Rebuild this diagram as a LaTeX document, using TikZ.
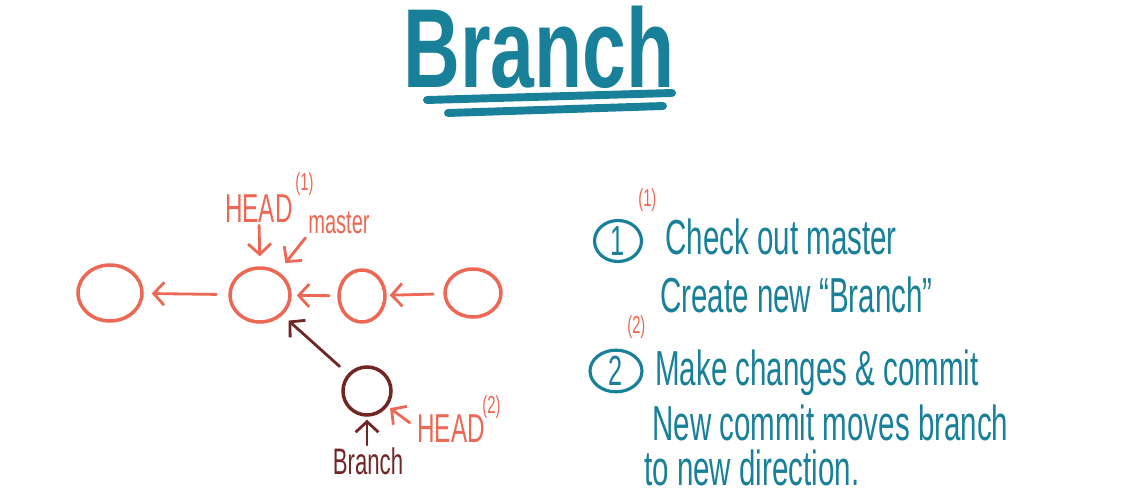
\documentclass[tikz,border=0pt]{standalone}
\usepackage{fontspec}
\newfontfamily\hand[FakeStretch=0.6]{Liberation Sans}
\newfontfamily\handtitle[FakeStretch=0.7]{Liberation Sans Bold}
\usetikzlibrary{shapes.geometric, arrows.meta, positioning, calc}

\definecolor{inkteal}{RGB}{24,128,152}
\definecolor{inkred}{RGB}{236,104,84}
\definecolor{inkbrown}{RGB}{112,38,34}

\begin{document}
\begin{tikzpicture}[x=0.02cm, y=-0.02cm,
    commit/.style={ellipse, draw=inkred, line width=2pt, inner sep=0pt},
    arr/.style={-{Straight Barb[length=6pt,width=13pt]}, line width=1.6pt, line cap=round, line join=round},
    txt/.style={inner sep=0pt, anchor=base west, font=\hand\fontsize{28}{32}\selectfont, text=inkteal},
    lbl/.style={inner sep=0pt, font=\hand\fontsize{23}{26}\selectfont, text=inkred},
    sup/.style={inner sep=0pt, font=\hand\fontsize{14}{16}\selectfont, text=inkred},
    num/.style={ellipse, draw=inkteal, line width=1.8pt, inner sep=0pt, text=inkteal, font=\hand\fontsize{24}{28}\selectfont}]
        \useasboundingbox (0,0) rectangle (1130,500);

        % Title
        \node[inner sep=0pt, anchor=base west, text=inkteal, font=\handtitle\fontsize{64}{72}\selectfont] (title) at (403,88) {Branch};
        \draw[inkteal, line width=4.5pt, line cap=round] (427,100) -- (672,93);
        \draw[inkteal, line width=4.5pt, line cap=round] (448,113) -- (663,106);

        % Commits
        \node[commit, minimum width=1.28cm, minimum height=1.12cm] (c1) at (110,293) {};
        \node[commit, minimum width=1.2cm, minimum height=1.08cm] (c2) at (260,295) {};
        \node[commit, minimum width=0.92cm, minimum height=1.04cm] (c3) at (362,296) {};
        \node[commit, minimum width=1.12cm, minimum height=0.96cm] (c4) at (473,293) {};
        \node[commit, draw=inkbrown, minimum width=0.96cm, minimum height=0.96cm] (c5) at (367,391) {};

        \draw[arr, inkred, shorten <=0.24cm, shorten >=0.16cm] (c2) -- (c1);
        \draw[arr, inkred, shorten <=0.16cm, shorten >=0.1cm] (c3) -- (c2);
        \draw[arr, inkred, shorten <=0.2cm, shorten >=0.06cm] (c4) -- (c3);
        \draw[arr, inkbrown, shorten <=0.22cm, shorten >=0.16cm] (c5) -- (c2);

        % Pointers
        \node[lbl, anchor=base] (head1) at (259,222) {HEAD};
        \node[sup, anchor=south west] (head1n) at ($(head1.north east)+(2,2)$) {(1)};
        \node[lbl, anchor=base west, font=\hand\fontsize{19}{22}\selectfont] (master) at (308,234) {master};
        \node[lbl, anchor=base west] (head2) at (417,442) {HEAD};
        \node[sup, anchor=south west] (head2n) at ($(head2.north east)+(-3,5)$) {(2)};
        \node[lbl, text=inkbrown, anchor=base, font=\hand\fontsize{21}{24}\selectfont] (branch) at (368,474) {Branch};

        \draw[arr, inkred, shorten <=0.06cm, shorten >=0.2cm] (head1.south) -- (c2.north);
        \draw[arr, inkred, shorten <=0.08cm, shorten >=0.22cm] (master.south west) -- (c2);
        \draw[arr, inkred, shorten <=0.18cm, shorten >=0.06cm] (head2.west) -- (c5);
        \draw[arr, inkbrown, shorten <=0.04cm, shorten >=0.06cm] (c5.south |- branch.north) -- (c5.south);

        % Steps
        \node[num, minimum width=0.94cm, minimum height=0.76cm] (num1) at (618,241) {1};
        \node[sup, anchor=south west] (num1n) at ($(num1.north)+(20,-7)$) {(1)};
        \node[txt] (l1) at (665,255) {Check out master};
        \node[txt] (l2) at (660,312) {Create new “Branch”};

        \node[num, minimum width=1.04cm, minimum height=0.74cm] (num2) at (616,371) {2};
        \node[sup, anchor=south west] (num2n) at ($(num2.north)+(11,-10)$) {(2)};
        \node[txt] (l3) at (655,385) {Make changes \& commit};
        \node[txt] (l4) at (652,440) {New commit moves branch};
        \node[txt] (l5) at (644,485) {to new direction.};
    \end{tikzpicture}
\end{document}
